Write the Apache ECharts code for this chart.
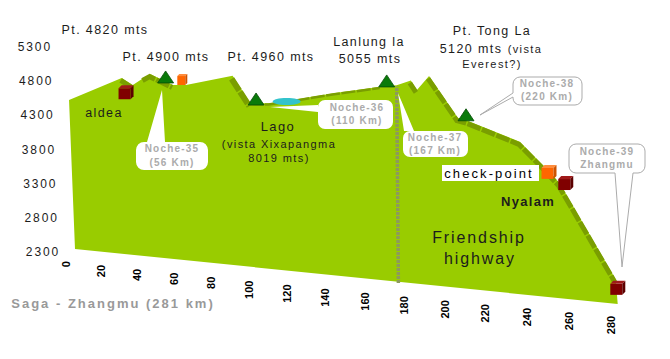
<!DOCTYPE html>
<html><head><meta charset="utf-8">
<style>html,body{margin:0;padding:0;background:#fff}#c{width:670px;height:359px}</style>
<script src="https://cdn.jsdelivr.net/npm/echarts@6/dist/echarts.min.js"></script>
</head><body><div id="c"></div>
<script>
// ---- data ----
const xTicks = [0,20,40,60,80,100,120,140,160,180,200,220,240,260,280];
const yTicks = [2300,2800,3300,3800,4300,4800,5300];
const profileKm   = [0,30,36,42,46,58,65,90,99,109,125,143,166,174,181,184,190,204,209,234,245,253,280,281];
const profileElev = [4480,4870,4780,4895,4960,4830,4845,5030,4660,4680,4780,4900,5035,5075,5155,5030,5235,4680,4650,4415,4120,3890,2630,2300];
const roadRuns = [[30,36,5],[42,58,5],[90,99,6],[99,166,2.5],[181,184,5],[190,280,5]];
const passKm   = [54,102,169,208];
const passElev = [4850,4640,5040,4650];
const stopKm   = [32,63,248,256,281];
const stopElev = [4565,4840,3935,3800,2425];
const stopKind = ['camp','check','check','camp','camp'];
const lake = [118,4725];
const dividerKm = 174, dividerTop = 5060;

const GREEN='#99CC00', ROAD='#7A9E00', GREY='#ababab', INK='#1c1c1c';
const track = {};
const fontFamily='"Liberation Sans",Arial,sans-serif';

// oblique projection of the chart plane, driven by the axis scales
function proj(api,km,e){
  const p=api.coord([km,e]), b=api.coord([km,2300]);
  const h=(b[1]-p[1])*(1+0.00025*km);
  return [p[0]+0.00068*km*km-h*0.04*(1-km/220), b[1]+0.1957*km-h];
}
function txt(s,x,y,size,o){
  o=o||{}; track[s]=o.track==null?'1.8px':o.track;
  return {type:'text',x:x,y:y,rotation:o.rot||0,style:{text:s,x:0,y:0,fill:o.color||INK,
    font:(o.bold?'bold ':'')+size+'px '+fontFamily,textAlign:o.align||'center',textVerticalAlign:'middle',verticalAlign:'middle'}};
}
function balloon(r,tail){
  const [x0,y0,x1,y1,rad]=r, pts=[];
  const arc=(cx,cy,a0)=>{for(let i=0;i<=4;i++){const a=a0+i*Math.PI/8;pts.push([cx+rad*Math.cos(a),cy+rad*Math.sin(a)]);}};
  arc(x0+rad,y0+rad,Math.PI); if(tail.side==='top')pts.push(...tail.pts);
  arc(x1-rad,y0+rad,1.5*Math.PI);
  arc(x1-rad,y1-rad,0); if(tail.side==='bottom')pts.push(...tail.pts);
  arc(x0+rad,y1-rad,.5*Math.PI); if(tail.side==='left')pts.push(...tail.pts);
  return pts;
}
const notes=[
 {r:[136,142,208,170,8],tail:{side:'top',pts:[[147,142],[162,90],[165,142]]},stroke:null,t:['Noche-35','(56 Km)'],tx:172,ty:[148.5,162.5]},
 {r:[318,100,393,129,7],tail:{side:'left',pts:[[318,112],[270,107],[318,105]]},stroke:null,t:['Noche-36','(110 Km)'],tx:357,ty:[107,120.5]},
 {r:[403,131,468,157,7],tail:{side:'top',pts:[[404,131],[398,93],[414,131]]},stroke:null,t:['Noche-37','(167 Km)'],tx:435,ty:[137,150]},
 {r:[513,77,582,105,7],tail:{side:'left',pts:[[513,97],[480,115],[513,93]]},stroke:GREY,t:['Noche-38','(220 Km)'],tx:547,ty:[83.5,96.5]},
 {r:[569,144,645,173,7],tail:{side:'bottom',pts:[[633,173],[622,267],[615,173]]},stroke:GREY,t:['Noche-39','Zhangmu'],tx:607,ty:[151,164]}
];
const labels=[
 ['Pt. 4820 mts',105,30,12.5],['Pt. 4900 mts',166,57,12.5],['Pt. 4960 mts',271,57,12.5],
 ['Lanlung la',369,42,12.5],['5055 mts',370,59,12.5],
 ['Pt. Tong La',492,31,12.5],['5120 mts',471,49,12.5],['(vista',525,49,11],['Everest?)',492,64,11],
 ['aldea',104,113,12.5],['Lago',278,126,13],['(vista Xixapangma',279,144,11],['8019 mts)',279,158,11],
 ['Friendship',479,237,16],['highway',480,258,16]
];

function single(z,render){
  return {type:'custom',coordinateSystem:'cartesian2d',z:z,silent:true,clip:false,data:[[0,2300]],renderItem:render,animation:false};
}
const option={
  animation:false,backgroundColor:'#fff',
  grid:{left:75,top:44,width:489,height:205},
  xAxis:{type:'value',min:0,max:281,show:false},
  yAxis:{type:'value',min:2300,max:5300,show:false},
  series:[
    single(2,(p,api)=>{
      const pts=profileKm.map((k,i)=>proj(api,k,profileElev[i]));
      pts.push(proj(api,0,2300));
      return {type:'polygon',shape:{points:pts},style:{fill:GREEN}};
    }),
    single(3,(p,api)=>({type:'group',children:roadRuns.map(([a,b,w])=>{
      const pts=[];profileKm.forEach((k,i)=>{if(k>=a&&k<=b){const q=proj(api,k,profileElev[i]);pts.push([q[0]-1,q[1]+w/2]);}});
      return {type:'polyline',shape:{points:pts},style:{fill:'none',stroke:ROAD,lineWidth:w,lineDash:[14,1.5]}};
    })})),
    single(3,(p,api)=>{
      const a=proj(api,dividerKm,2300),b=proj(api,dividerKm,dividerTop);
      return {type:'line',shape:{x1:a[0],y1:a[1],x2:b[0],y2:b[1]},style:{stroke:'#8d9a5c',lineWidth:3.5,lineDash:[3,1]}};
    }),
    single(3,(p,api)=>{
      const c=proj(api,lake[0],lake[1]);
      return {type:'ellipse',shape:{cx:c[0],cy:c[1],rx:14,ry:3.6},style:{fill:'#33C3CC'}};
    }),
    single(4,()=>({type:'group',children:notes.flatMap(n=>[
      {type:'polygon',shape:{points:balloon(n.r,n.tail)},style:{fill:'#fff',stroke:n.stroke||'#fff',lineWidth:n.stroke?1:0}},
      txt(n.t[0],n.tx,n.ty[0],10,{bold:true,color:GREY,track:'1.2px'}),
      txt(n.t[1],n.tx,n.ty[1],10,{bold:true,color:GREY,track:'1.2px'})
    ])})),
    {type:'custom',coordinateSystem:'cartesian2d',z:5,silent:true,clip:false,animation:false,
     data:passKm.map((k,i)=>[k,passElev[i]]),
     renderItem:(p,api)=>{
       const q=proj(api,api.value(0),api.value(1));
       return {type:'polygon',shape:{points:[[q[0]-8,q[1]],[q[0]+8,q[1]],[q[0],q[1]-12]]},style:{fill:'#0A7A0A',stroke:'#064d06',lineWidth:.8}};
     }},
    {type:'custom',coordinateSystem:'cartesian2d',z:6,silent:true,clip:false,animation:false,
     data:stopKm.map((k,i)=>[k,stopElev[i]]),
     renderItem:(p,api)=>{
       const i=p.dataIndex,q=proj(api,api.value(0),api.value(1));
       const camp=stopKind[i]==='camp', small=i===1;
       const w=small?10:15,h=small?11:14,d=small?2:3;
       const c=camp?['#800000','#5c0000','#a01a1a']:['#FF6600','#cc5200','#ff8c3c'];
       const L=q[0]-w/2,R=q[0]+w/2,B=q[1],T=q[1]-h;
       return {type:'group',children:[
         {type:'rect',shape:{x:L,y:T+d,width:w-d,height:h-d},style:{fill:c[0]}},
         {type:'polygon',shape:{points:[[L,T+d],[L+d,T],[R,T],[R-d,T+d]]},style:{fill:c[2]}},
         {type:'polygon',shape:{points:[[R-d,T+d],[R,T],[R,B-d],[R-d,B]]},style:{fill:c[1]}}
       ]};
     }},
    {type:'custom',coordinateSystem:'cartesian2d',z:7,silent:true,clip:false,animation:false,
     data:yTicks.map(v=>[0,v]),
     renderItem:(p,api)=>{
       const q=proj(api,0,api.value(1));
       return txt(String(api.value(1)),q[0]-32,q[1]+3,12,{track:'1.9px'});
     }},
    {type:'custom',coordinateSystem:'cartesian2d',z:7,silent:true,clip:false,animation:false,
     data:xTicks.map(v=>[v,2300]),
     renderItem:(p,api)=>{
       const km=api.value(0),q=proj(api,km,2300);
       return txt(String(km),q[0]-9+km*0.017,q[1]+12,11,{bold:true,rot:Math.PI/2,align:'right',color:'#000',track:'0'});
     }},
    single(7,()=>({type:'group',children:[
      ...labels.map(l=>txt(l[0],l[1],l[2],l[3],{track:l[3]>=16?'1.9px':(l[3]===11?'1.4px':'1.4px')})),
      {type:'rect',shape:{x:442,y:165,width:97,height:16},style:{fill:'#fff'}},
      txt('check-point',489,173,13,{bold:false,track:'2.1px',color:'#000'}),
      txt('Nyalam',528,201,13,{bold:true,track:'1.3px'}),
      txt('Saga - Zhangmu (281 km)',113,303,13,{bold:true,color:'#999',track:'2px'})
    ]}))
  ]
};
const chart=echarts.init(document.getElementById('c'),null,{renderer:'svg',width:670,height:359});
chart.setOption(option);
function applyTrack(){document.querySelectorAll('#c text').forEach(t=>{t.style.letterSpacing=track[t.textContent]||'0';});}
applyTrack();chart.on('finished',applyTrack);
</script></body></html>
